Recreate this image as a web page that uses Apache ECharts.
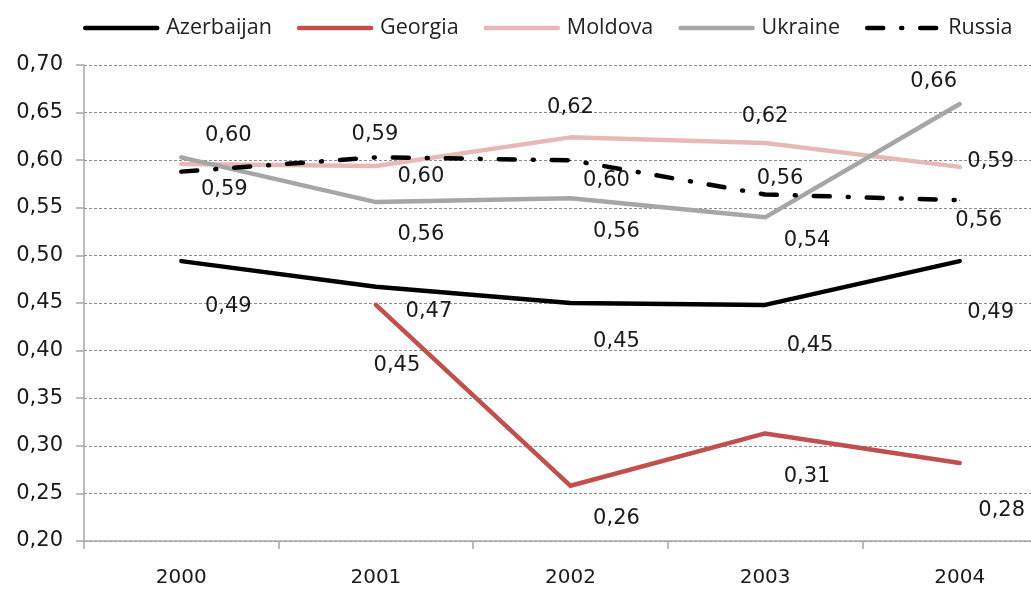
<!DOCTYPE html>
<html>
<head>
<meta charset="utf-8">
<title>Chart</title>
<script src="https://cdn.jsdelivr.net/npm/echarts@6/dist/echarts.min.js"></script>
<style>
  html, body { margin: 0; padding: 0; background: #fff; overflow: hidden; }
  /* the plot runs past the right edge of the picture, as in the original */
  #main { width: 1057px; height: 589px; }
</style>
</head>
<body>
<div id="main"></div>
<script>
// data
const years = ['2000', '2001', '2002', '2003', '2004']
const azerbaijan = [0.494, 0.467, 0.450, 0.448, 0.494]
const georgia = [null, 0.448, 0.258, 0.313, 0.282]
const moldova = [0.596, 0.594, 0.624, 0.618, 0.593]
const ukraine = [0.603, 0.556, 0.560, 0.540, 0.659]
const russia = [0.588, 0.603, 0.600, 0.564, 0.558]
const yMin = 0.2
const yMax = 0.7
const yStep = 0.05

// where each value label sits relative to its point (null = no label)
const labelOffsets = {
  Azerbaijan: [[47, 45], [53, 25], [46, 39], [45, 41], [31, 51]],
  Georgia: [null, [21, 61], [46, 33], [42, 43], [42, 48]],
  Moldova: [[47, -28], [-1, -31], [0, -30], [0, -27], [31, -5]],
  Ukraine: [null, [45, 32], [46, 33], [42, 23], [-26, -22]],
  Russia: [[43, 18], [45, 19], [36, 20], [15, -16], [19, 20]]
}

const fmt = v => v.toFixed(2).replace('.', ',')

function makeSeries (name, values, color, lineType) {
  const offs = labelOffsets[name]
  return {
    name: name,
    type: 'line',
    symbol: 'circle',
    symbolSize: 1,
    itemStyle: { color: color },
    lineStyle: { color: color, width: 4.5, type: lineType || 'solid', cap: 'round', join: 'round' },
    emphasis: { disabled: true },
    label: { fontSize: 21, color: '#1a1a1a', fontFamily: 'DejaVu Sans' },
    data: values.map((v, i) => {
      if (v == null) return null
      const o = offs[i]
      return {
        value: v,
        label: {
          show: o != null,
          position: 'inside',
          offset: o || [0, 0],
          formatter: p => fmt(p.value)
        }
      }
    })
  }
}

const chart = echarts.init(document.getElementById('main'))
chart.setOption({
  animation: false,
  textStyle: { fontFamily: 'DejaVu Sans' },
  legend: {
    left: 78,
    top: 12,
    itemWidth: 72,
    itemHeight: 24,
    itemGap: 25,
    itemStyle: { opacity: 0 },
    lineStyle: { width: 4.5 },
    textStyle: { fontFamily: 'Open Sans', fontSize: 21.5, color: '#222', padding: [0, 0, 0, 4] },
    data: ['Azerbaijan', 'Georgia', 'Moldova', 'Ukraine', 'Russia']
  },
  grid: { left: 84, right: 0, top: 65, bottom: 48 },
  xAxis: {
    type: 'category',
    data: years,
    boundaryGap: true,
    axisLine: { lineStyle: { color: '#a6a6a6', width: 1.5 } },
    axisTick: { show: true, length: 8, lineStyle: { color: '#a6a6a6', width: 1.5 } },
    axisLabel: { color: '#1a1a1a', fontSize: 20, margin: 27 },
    splitLine: { show: false }
  },
  yAxis: {
    type: 'value',
    min: yMin,
    max: yMax,
    interval: yStep,
    axisLine: { show: true, lineStyle: { color: '#a6a6a6', width: 1.5 } },
    axisTick: { show: true, length: 8, lineStyle: { color: '#a6a6a6', width: 1.5 } },
    axisLabel: { color: '#1a1a1a', fontSize: 21, margin: 21, formatter: v => fmt(v) },
    splitLine: { show: true, lineStyle: { color: '#8c8c8c', width: 1, type: [3, 2] } }
  },
  series: [
    makeSeries('Azerbaijan', azerbaijan, '#000000'),
    makeSeries('Georgia', georgia, '#c0504d'),
    makeSeries('Moldova', moldova, '#e6b9b8'),
    makeSeries('Ukraine', ukraine, '#a6a6a6'),
    makeSeries('Russia', russia, '#000000', [16, 18, 1, 18])
  ]
})
</script>
</body>
</html>
